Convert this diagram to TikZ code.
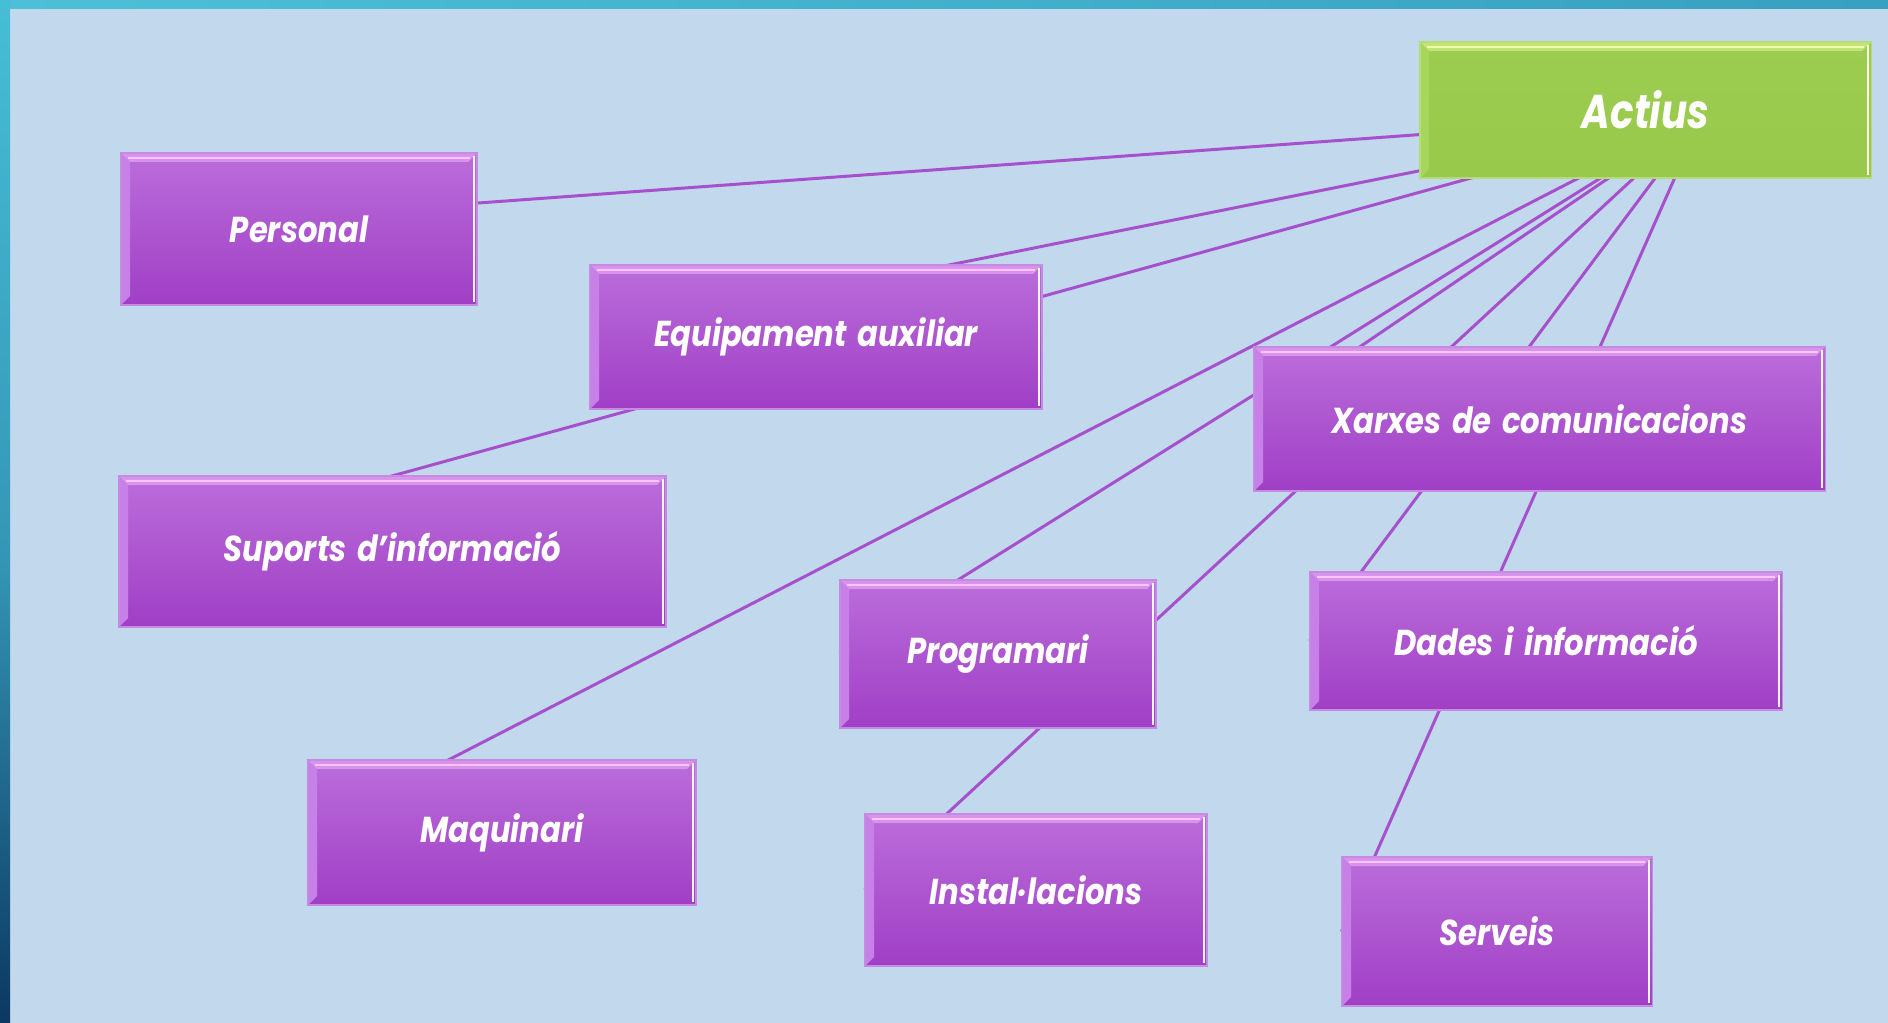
\documentclass[tikz,border=0pt]{standalone}
\usepackage{fontspec}
\setmainfont{Poppins}
\newfontfamily\boxfont{Poppins}[FakeStretch=0.85, WordSpace=1.5]
\newfontfamily\rootfont{Poppins}[FakeStretch=0.82]
\usetikzlibrary{calc}
\pgfdeclarelayer{back}
\pgfsetlayers{back,main}
\definecolor{bgblue}{HTML}{C2D8EC}
\definecolor{conncol}{HTML}{A650CE}
\definecolor{ptop}{HTML}{BB6DDA}
\definecolor{pbot}{HTML}{A03FC6}
\definecolor{pedge}{HTML}{C58AE2}
\definecolor{phl}{HTML}{FBC4FF}
\definecolor{pleft}{HTML}{C780E8}
\definecolor{gtop}{HTML}{9DCD50}
\definecolor{gbot}{HTML}{98C94B}
\definecolor{gedge}{HTML}{B4DC78}
\definecolor{ghl}{HTML}{EEFFA8}
\definecolor{gleft}{HTML}{A6D65C}
\definecolor{topL}{HTML}{4DC0D8}
\definecolor{topR}{HTML}{38A0C0}
\definecolor{sideA}{HTML}{46BED6}
\definecolor{sideB}{HTML}{3496B6}
\definecolor{sideC}{HTML}{0B3862}
\tikzset{
  bevel/.style n args={4}{path picture={
    \path (path picture bounding box.north west) coordinate (@nw)
          (path picture bounding box.north east) coordinate (@ne)
          (path picture bounding box.south west) coordinate (@sw)
          (path picture bounding box.south east) coordinate (@se);
    \fill[#2] (@nw) -- (@sw) -- ([shift={(9,-9)}]@sw) -- ([shift={(9,9)}]@nw) -- cycle;
    \fill[#1!45!#4] (@nw) -- (@ne) -- ([shift={(-9,9)}]@ne) -- ([shift={(9,9)}]@nw) -- cycle;
    \draw[#1, line width=1.6pt] ([shift={(7,5)}]@nw) -- ([shift={(-7,5)}]@ne);
    \draw[#3, line width=1.5pt] ([shift={(-3,3)}]@ne) -- ([shift={(-3,-3)}]@se);
  }},
  pbox/.style={rectangle, draw=pedge, line width=0.6pt, top color=ptop, bottom color=pbot,
    text=white, inner sep=0pt, font=\boxfont\fontsize{20.5}{24}\selectfont\bfseries\itshape,
    bevel={phl}{pleft}{white!85!phl}{ptop}},
  gbox/.style={rectangle, draw=gedge, line width=0.6pt, top color=gtop, bottom color=gbot,
    text=white, inner sep=0pt, font=\rootfont\fontsize{27}{31}\selectfont\bfseries\itshape,
    bevel={ghl}{gleft}{white!80!ghl}{gtop}},
  conn/.style={draw=conncol, line width=1.7pt},
}
\newcommand{\bx}[7]{\node[#1, minimum width={(#5-#3)*0.02cm}, minimum height={(#6-#4)*0.02cm}]
  (#2) at ({(#3+#5)/2},{(#4+#6)/2}) {#7};}
\begin{document}
\begin{tikzpicture}[x=0.02cm, y=-0.02cm]
\useasboundingbox (0,0) rectangle (1888,1023);
\begin{pgfonlayer}{back}
  \fill[bgblue] (0,0) rectangle (1888,1023);
  \shade[left color=topL, right color=topR] (0,0) rectangle (1888,9);
  \shade[top color=sideA, bottom color=sideB] (0,0) rectangle (10,560);
  \shade[top color=sideB, bottom color=sideC] (0,560) rectangle (10,1023);
\end{pgfonlayer}
\bx{gbox}{actius}{1420}{42}{1871}{178}{Actius}
\bx{pbox}{personal}{121}{153}{477}{305}{Personal}
\bx{pbox}{equip}{590}{265}{1042}{409}{Equipament auxiliar}
\bx{pbox}{suports}{119}{476}{666}{627}{Suports d’informació}
\bx{pbox}{xarxes}{1254}{347}{1825}{491}{Xarxes de comunicacions}
\bx{pbox}{program}{840}{580}{1156}{728}{Programari}
\bx{pbox}{dades}{1310}{572}{1782}{710}{Dades i informació}
\bx{pbox}{maquin}{308}{760}{696}{905}{Maquinari}
\bx{pbox}{instal}{865}{814}{1207}{966}{Instal·lacions}
\bx{pbox}{serveis}{1342}{857}{1652}{1006}{Serveis}
\coordinate (hub) at (1703,114);
\begin{pgfonlayer}{back}
  \foreach \t in {personal,equip,suports,xarxes,program,dades,maquin,instal,serveis}
    \draw[conn] (hub) -- (\t.west);
\end{pgfonlayer}
\end{tikzpicture}
\end{document}
